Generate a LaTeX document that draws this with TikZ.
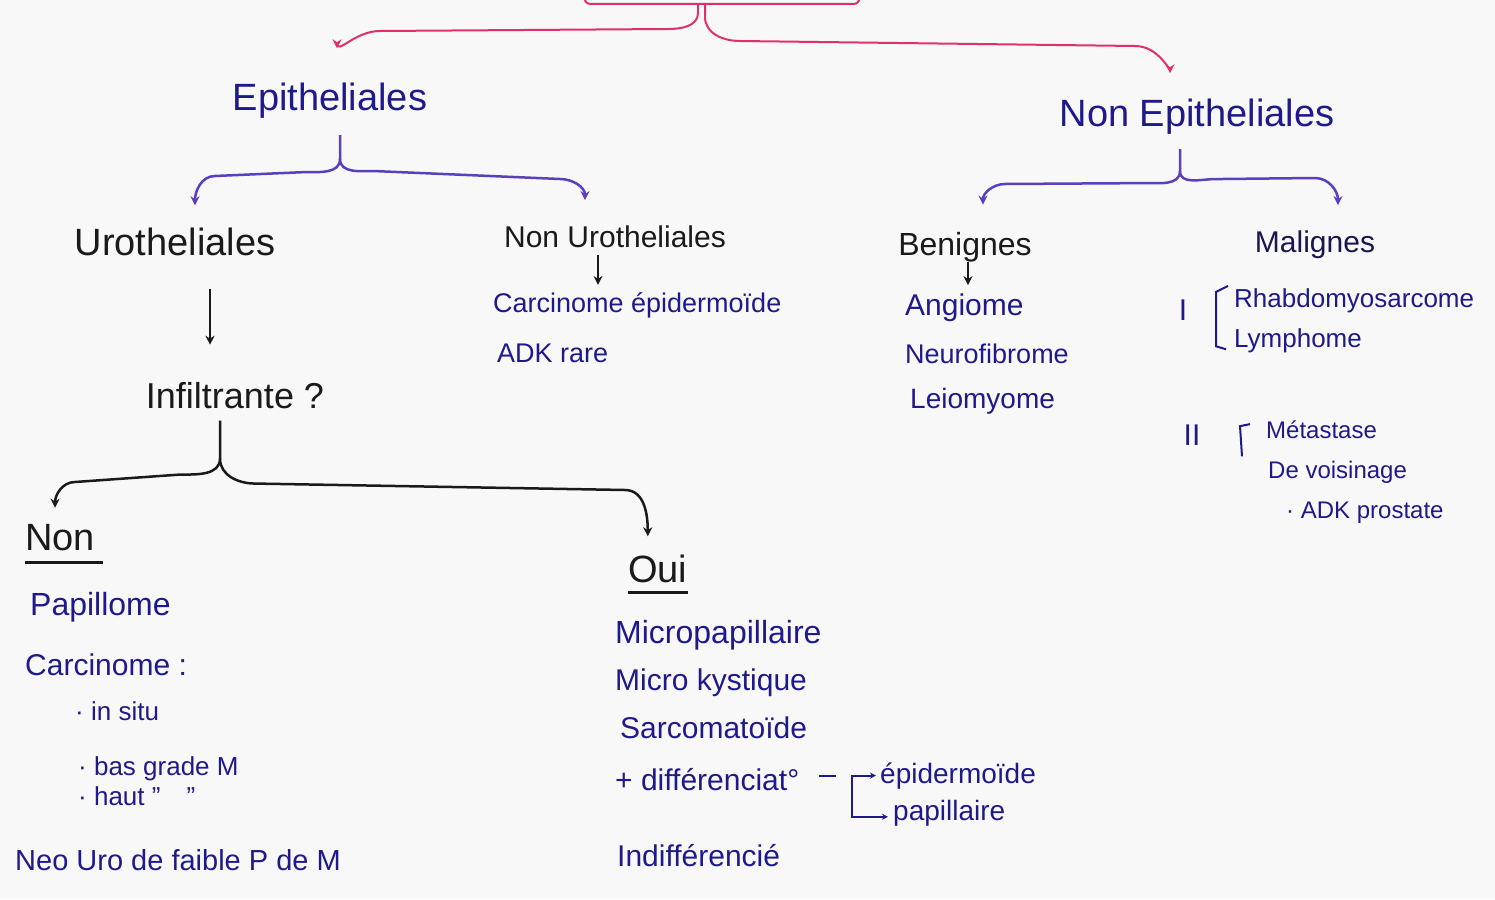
\documentclass[tikz,border=0pt]{standalone}
\usepackage{fontspec}
\setmainfont{Liberation Sans}
\usetikzlibrary{arrows.meta}
\definecolor{ink}{HTML}{1E1A8C}
\definecolor{dkink}{HTML}{1A1650}
\definecolor{blk}{HTML}{1A1A1A}
\definecolor{purp}{HTML}{5A3FC0}
\definecolor{rose}{HTML}{E0306A}
\definecolor{paper}{HTML}{F8F8F8}
\begin{document}
\begin{tikzpicture}[x=1pt,y=-1pt,
  lbl/.style={inner sep=0pt, anchor=base west, font=\fontsize{30}{36}\selectfont, text=ink},
  hd/.style={inner sep=0pt, anchor=base, text=blk, font=\fontsize{38}{44}\selectfont},
  tipa/.style={-{Stealth[length=9pt,width=9pt]}},
  redc/.style={draw=rose, line width=2pt, tipa},
  purc/.style={draw=purp, line width=2.5pt, tipa},
  blkc/.style={draw=blk, line width=2.5pt, tipa},
  inkc/.style={draw=ink, line width=2pt},
]
\fill[paper] (0,0) rectangle (1495,899);
\useasboundingbox (0,0) rectangle (1495,899);

% root box (cut by the top edge)
\node[draw=rose, line width=2pt, rounded corners=6pt, minimum width=275pt, minimum height=40pt, inner sep=0pt] (root) at (722,-16) {};

% level 1
\node[hd, text=ink] (epi) at (330,110) {Epitheliales};
\node[hd, text=ink] (nonepi) at (1197,126) {Non Epitheliales};

% level 2
\node[hd] (urot) at (175,255) {Urotheliales};
\node[hd, font=\fontsize{30}{36}\selectfont] (nonuro) at (615,247) {Non Urotheliales};
\node[hd, font=\fontsize{32}{38}\selectfont] (ben) at (965,255) {Benignes};
\node[hd, text=dkink, font=\fontsize{30}{36}\selectfont] (mal) at (1315,252) {Malignes};

% non urotheliales list
\node[lbl, font=\fontsize{27}{32}\selectfont] (carc) at (493,312) {Carcinome épidermoïde};
\node[lbl, font=\fontsize{27}{32}\selectfont] (adk) at (497,362) {ADK rare};

% benignes list
\node[lbl] (ang) at (905,315) {Angiome};
\node[lbl, font=\fontsize{27}{32}\selectfont] (neuro) at (905,363) {Neurofibrome};
\node[lbl, font=\fontsize{28}{32}\selectfont] (leio) at (910,408) {Leiomyome};

% malignes
\node[hd, text=ink, font=\fontsize{30}{36}\selectfont] (one) at (1183,320) {I};
\node[lbl, font=\fontsize{26}{30}\selectfont] (rhab) at (1234,307) {Rhabdomyosarcome};
\node[lbl, font=\fontsize{26}{30}\selectfont] (lymph) at (1234,347) {Lymphome};
\node[hd, text=ink, font=\fontsize{30}{36}\selectfont] (two) at (1192,445) {II};
\node[lbl, font=\fontsize{24}{30}\selectfont] (meta) at (1266,438) {Métastase};
\node[lbl, font=\fontsize{24}{30}\selectfont] (vois) at (1268,478) {De voisinage};
\node[lbl, font=\fontsize{24}{30}\selectfont] (adkp) at (1286,518) {· ADK prostate};
\draw[inkc] ([xshift=-6pt,yshift=2pt]rhab.north west) -- ([xshift=-18pt,yshift=-4pt]rhab.north west) -- ([xshift=-18pt,yshift=-6pt]lymph.west) -- ++(10,3);
\draw[inkc] ([xshift=-16pt,yshift=-4pt]meta.north west) -- ([xshift=-26pt,yshift=-6pt]meta.north west) -- ([xshift=-26pt,yshift=4pt]vois.north west);

% infiltrante
\node[hd, font=\fontsize{36}{42}\selectfont] (infil) at (235,408) {Infiltrante ?};

% non
\node[hd, anchor=base west] (non) at (25,550) {Non};
\draw[blk, line width=2.5pt] ([yshift=-12pt]non.south west) -- ([yshift=-12pt,xshift=8pt]non.south east);
\node[lbl, font=\fontsize{32}{38}\selectfont] (papil) at (30,615) {Papillome};
\node[lbl] (carcn) at (25,675) {Carcinome :};
\node[lbl, font=\fontsize{26}{30}\selectfont] (insitu) at (75,720) {· in situ};
\node[lbl, font=\fontsize{26}{30}\selectfont] (bas) at (78,775) {· bas grade M};
\node[lbl, font=\fontsize{26}{30}\selectfont] (haut) at (78,805) {· haut {"}\quad{"}};
\node[lbl, font=\fontsize{29}{34}\selectfont] (neo) at (15,870) {Neo Uro de faible P de M};

% oui
\node[hd, anchor=base west] (oui) at (628,582) {Oui};
\draw[blk, line width=2.5pt] ([yshift=-10pt]oui.south west) -- ([yshift=-10pt]oui.south east);
\node[lbl, font=\fontsize{32}{38}\selectfont] (micp) at (615,643) {Micropapillaire};
\node[lbl] (mick) at (615,690) {Micro kystique};
\node[lbl] (sarc) at (620,738) {Sarcomatoïde};
\node[lbl] (diff) at (615,790) {+ différenciat°};
\node[lbl, font=\fontsize{28}{34}\selectfont] (epid) at (880,783) {épidermoïde};
\node[lbl, font=\fontsize{28}{34}\selectfont] (papi) at (893,820) {papillaire};
\node[lbl] (indif) at (617,866) {Indifférencié};
\draw[inkc] ([xshift=20pt,yshift=3pt]diff.east) -- ++(17,0);
\draw[draw=ink, line width=2pt, {Stealth[length=6pt,width=6pt]}-{Stealth[length=6pt,width=6pt]}]
  ([xshift=-4pt]epid.west) -| (852,800) |- ([xshift=-5pt,yshift=-4pt]papi.west);

% red connectors
\draw[redc, shorten >=34pt] ([xshift=-24pt]root.south) -- ++(0,8) to[out=-90,in=0] ++(-30,16) -- (380,31) to[out=180,in=90] ([xshift=7pt]epi.north);
\draw[redc, shorten >=25pt] ([xshift=-17pt]root.south) -- ++(0,12) to[out=-90,in=180] ++(35,24) -- (1135,46) to[out=0,in=90] ([xshift=-27pt]nonepi.north);

% purple braces
\draw[purc] ([xshift=10pt,yshift=-17pt]epi.south) -- ++(0,24) coordinate (ej) to[out=-90,in=0] ++(-35,13) -- (215,176) to[out=180,in=90] ([xshift=20pt,yshift=22pt]urot.north);
\draw[purc] (ej) to[out=-90,in=180] ++(35,12) -- (560,179) to[out=0,in=90] ([xshift=-30pt,yshift=25pt]nonuro.north);
\draw[purc] ([xshift=-17pt,yshift=-15pt]nonepi.south) -- ++(0,22) coordinate (nj) to[out=-90,in=0] ++(-35,12) -- (1005,184) to[out=180,in=90] ([xshift=18pt,yshift=27pt]ben.north);
\draw[purc] (nj) to[out=-90,in=180] ++(35,8) -- (1315,178) to[out=0,in=90] ([xshift=23pt,yshift=25pt]mal.north);

% black arrows
\draw[blkc, shorten >=37pt] ([xshift=35pt,yshift=-33pt]urot.south) -- ([xshift=35pt]urot.south |- infil.north);
\draw[blkc, line width=2pt, tipa, shorten >=7pt] ([xshift=-17pt,yshift=-8pt]nonuro.south) -- ([xshift=-17pt]nonuro.south |- carc.north);
\draw[blkc, line width=2pt, shorten >=8pt] ([xshift=3pt]ben.south) -- ([xshift=3pt]ben.south |- ang.north);

% infiltrante brace
\draw[blkc] ([xshift=-15pt,yshift=-12pt]infil.south) -- ++(0,38) coordinate (ij) to[out=-90,in=0] ++(-40,16) -- (75,482) to[out=180,in=90] ([xshift=-5pt,yshift=16pt]non.north);
\draw[blkc] (ij) to[out=-90,in=180] ++(35,25) -- (625,490) to[out=0,in=90] ([xshift=-10pt,yshift=18pt]oui.north);
\end{tikzpicture}
\end{document}
